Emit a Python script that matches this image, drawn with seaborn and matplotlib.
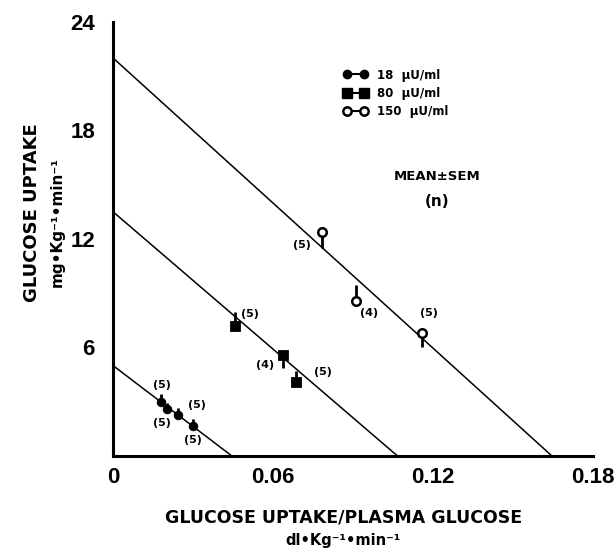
import pandas as pd
import seaborn as sns
import matplotlib.pyplot as plt
from matplotlib.lines import Line2D

# Data
doses = ['18  \u03bcU/ml', '80  \u03bcU/ml', '150  \u03bcU/ml']

x_18 = [0.0181, 0.0204, 0.0244, 0.0300]
y_18 = [3.00, 2.61, 2.28, 1.67]
sem_18 = [0.40, 0.30, 0.40, 0.35]          # + = bar up, - = bar down
n_18 = ['(5)', '(5)', '(5)', '(5)']

x_80 = [0.0457, 0.0637, 0.0686]
y_80 = [7.20, 5.60, 4.10]
sem_80 = [0.75, -0.75, 0.60]
n_80 = ['(5)', '(4)', '(5)']

x_150 = [0.0783, 0.0910, 0.1157]
y_150 = [12.40, 8.55, 6.80]
sem_150 = [-0.90, 0.90, -0.75]
n_150 = ['(5)', '(4)', '(5)']

# where the n labels sit (data coords)
nlab_x = [0.0184, 0.0315, 0.0184, 0.0300, 0.0513, 0.0570, 0.0786, 0.0708, 0.0962, 0.1186]
nlab_y = [3.94, 2.80, 1.83, 0.90, 7.83, 5.05, 4.67, 11.67, 7.90, 7.90]

# regression lines: y intercept and x intercept
y_int = [5.0, 13.5, 22.0]
x_int = [0.0446, 0.1067, 0.1646]

xticks = [0, 0.06, 0.12, 0.18]
xtick_labels = ['0', '0.06', '0.12', '0.18']
yticks = [6, 12, 18, 24]

sns.set_style('white')
plt.rcParams['font.family'] = ['DejaVu Sans']
plt.rcParams['text.color'] = 'black'
plt.rcParams['xtick.color'] = 'black'
plt.rcParams['ytick.color'] = 'black'
plt.rcParams['axes.edgecolor'] = 'black'

fig = plt.figure(figsize=(6.16, 5.51), dpi=100)
ax = fig.add_axes([0.1834, 0.1724, 0.7793, 0.7882])

# lines
for yi, xi in zip(y_int, x_int):
    df_line = pd.DataFrame({'x': [0, xi], 'y': [yi, 0]})
    sns.lineplot(data=df_line, x='x', y='y', color='black', lw=1.1, ax=ax)

# points
groups = [
    (x_18, y_18, sem_18, dict(marker='o', s=40, color='black', edgecolor='black')),
    (x_80, y_80, sem_80, dict(marker='s', s=55, color='black', edgecolor='black')),
    (x_150, y_150, sem_150, dict(marker='o', s=38, facecolor='white', edgecolor='black', linewidth=1.8)),
]
for xs, ys, es, kw in groups:
    df_pts = pd.DataFrame({'x': xs, 'y': ys, 'e': es})
    ax.vlines(df_pts['x'], df_pts['y'], df_pts['y'] + df_pts['e'], color='black', lw=2, zorder=3)
    sns.scatterplot(data=df_pts, x='x', y='y', ax=ax, zorder=4, **kw)

all_n = n_18 + n_80 + n_150
for tx, ty, t in zip(nlab_x, nlab_y, all_n):
    ax.text(tx, ty, t, ha='center', va='center', fontsize=8, fontweight='bold')

ax.set_xlim(0, 0.18)
ax.set_ylim(0, 24)
ax.set_xticks(xticks)
ax.set_xticklabels(xtick_labels)
ax.set_yticks(yticks)
ax.set_xlabel('')
ax.set_ylabel('')
for side in ['top', 'right']:
    ax.spines[side].set_visible(False)
for side in ['left', 'bottom']:
    ax.spines[side].set_linewidth(2.2)
ax.tick_params(axis='both', direction='in', width=2.2, color='black')
ax.tick_params(axis='x', length=8, pad=8)
ax.tick_params(axis='y', length=6, pad=13)
for lab in ax.get_xticklabels() + ax.get_yticklabels():
    lab.set_family(['Liberation Sans', 'DejaVu Sans'])
    lab.set_fontsize(16)
    lab.set_fontweight('bold')

# axis titles
fig.text(0.052, 0.615, 'GLUCOSE UPTAKE', rotation=90, ha='center', va='center',
         fontsize=13, fontweight='bold')
fig.text(0.093, 0.597, 'mg\u2022Kg\u207b\u00b9\u2022min\u207b\u00b9', rotation=90,
         ha='center', va='center', fontsize=11, fontweight='bold')
fig.text(0.557, 1 - 517 / 551, 'GLUCOSE UPTAKE/PLASMA GLUCOSE', ha='center', va='center',
         fontsize=12.5, fontweight='bold')
fig.text(0.557, 1 - 540 / 551, 'dl\u2022Kg\u207b\u00b9\u2022min\u207b\u00b9', ha='center', va='center',
         fontsize=10.5, fontweight='bold')

# legend
handles = [
    Line2D([], [], color='black', lw=1.5, marker='o', ms=6),
    Line2D([], [], color='black', lw=1.5, marker='s', ms=7),
    Line2D([], [], color='black', lw=1.5, marker='o', ms=6, mfc='white', mew=1.8),
]
fig.legend(handles, doses, loc='upper left', bbox_to_anchor=(333 / 616, 1 - 58 / 551),
           frameon=False, numpoints=2, handlelength=2.0, handletextpad=0.8,
           labelspacing=0.45, prop={'weight': 'bold', 'size': 8.5})

fig.text(437 / 616, 1 - 177 / 551, 'MEAN\u00b1SEM', ha='center', va='center',
         fontsize=9.5, fontweight='bold')
fig.text(437 / 616, 1 - 202 / 551, '(n)', ha='center', va='center',
         fontsize=11, fontweight='bold')

fig.savefig('out.png', dpi=100)
